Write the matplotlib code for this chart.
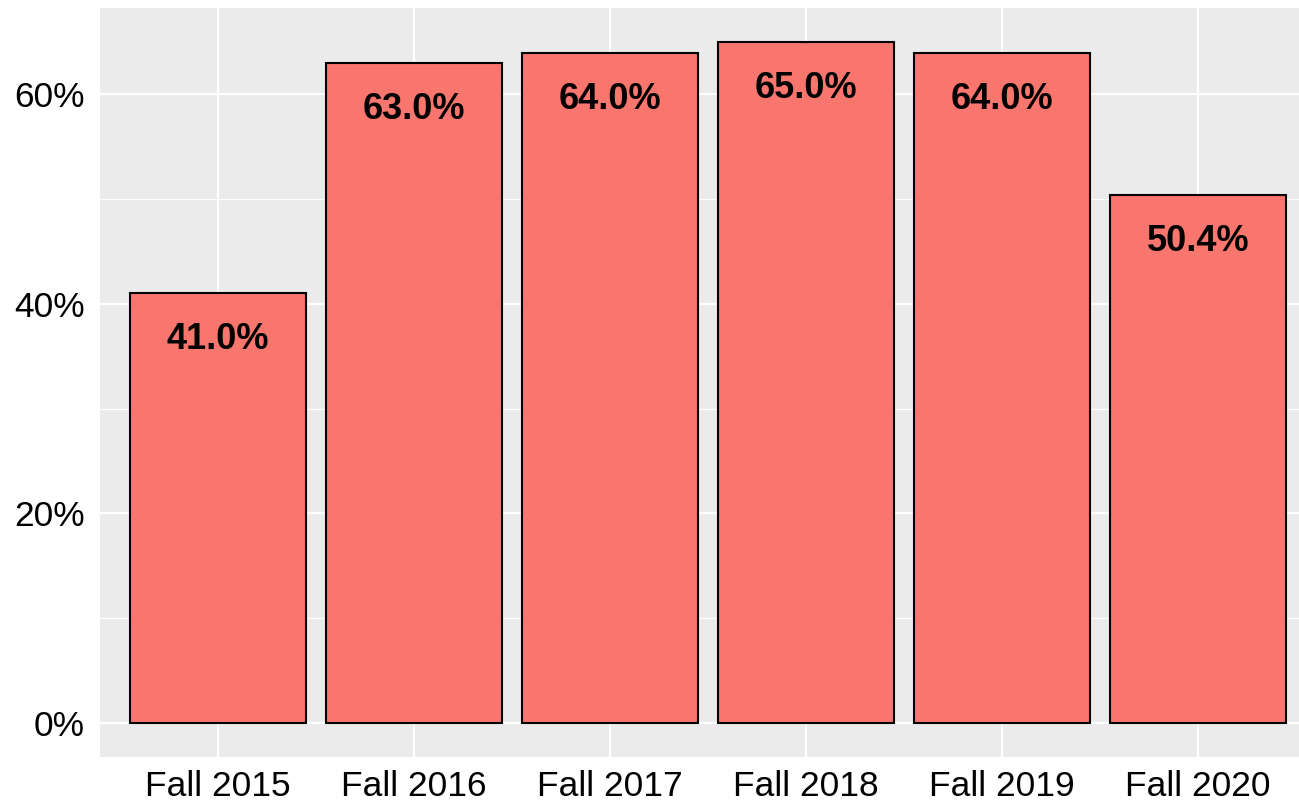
import matplotlib

matplotlib.use("Agg")
import matplotlib.pyplot as plt  # noqa: E402
from matplotlib.ticker import FixedLocator, FuncFormatter  # noqa: E402

terms = ["Fall 2015", "Fall 2016", "Fall 2017", "Fall 2018", "Fall 2019", "Fall 2020"]
rates = [41.0, 63.0, 64.0, 65.0, 64.0, 50.4]
labels = ["41.0%", "63.0%", "64.0%", "65.0%", "64.0%", "50.4%"]

plt.rcParams["font.family"] = ["Liberation Sans", "DejaVu Sans"]

W, H = 1299, 805
fig = plt.figure(figsize=(W / 100, H / 100), dpi=100)
# panel runs slightly past the right edge, as in the reference
left, right, top, bottom = 100.4, 1315.6, 8, 757
ax = fig.add_axes([left / W, 1 - bottom / H, (right - left) / W, (bottom - top) / H])
ax.set_facecolor("#EBEBEB")
for s in ax.spines.values():
    s.set_visible(False)

x = list(range(1, len(terms) + 1))
ax.bar(x, rates, width=0.9, color="#F8766D", edgecolor="black", linewidth=1.5, zorder=3)
for xi, v, lab in zip(x, rates, labels):
    ax.annotate(lab, (xi, v), xytext=(0, -33.5), textcoords="offset points",
                ha="center", va="center", fontsize=26, fontweight="bold",
                color="black", zorder=4)

ax.set_xlim(0.4, 6.6)
ax.set_ylim(-3.25, 68.25)
ax.set_xticks(x)
ax.set_xticklabels(terms)
ax.yaxis.set_major_locator(FixedLocator([0, 20, 40, 60]))
ax.yaxis.set_minor_locator(FixedLocator([10, 30, 50]))
ax.yaxis.set_major_formatter(FuncFormatter(lambda v, p: f"{v:.0f}%"))
ax.grid(which="major", color="white", linewidth=1.6, zorder=0)
ax.grid(which="minor", axis="y", color="white", linewidth=0.8, zorder=0)
ax.set_axisbelow(True)
ax.tick_params(axis="both", which="both", length=0, labelsize=25.5, colors="black")
ax.tick_params(axis="y", pad=11)
ax.tick_params(axis="x", pad=9)

fig.savefig("out.png", dpi=100)
